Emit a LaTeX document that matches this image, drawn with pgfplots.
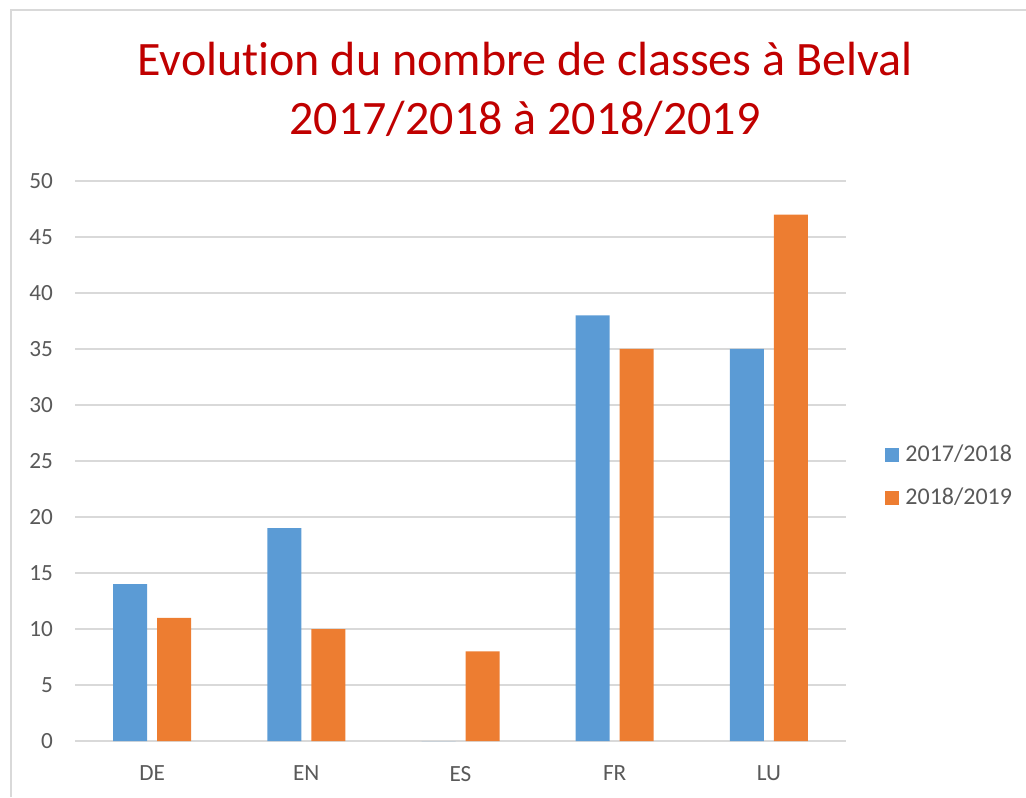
\documentclass[border=0pt]{standalone}
\usepackage{fontspec}
\setmainfont{Carlito}[RawFeature={-liga;-clig;-dlig}]
\usepackage{pgfplots}
\pgfplotsset{compat=1.18}
\definecolor{bl}{HTML}{5B9BD5}
\definecolor{orr}{HTML}{ED7D31}
\definecolor{tit}{HTML}{C00000}
\definecolor{txt}{HTML}{595959}
\definecolor{grd}{HTML}{D9D9D9}
\begin{document}
\begin{tikzpicture}
\begin{axis}[
 scale only axis, width=385.5pt, height=280pt,
 ybar=5pt, bar width=17pt,
 xmin=-0.5, xmax=4.5, ymin=0, ymax=50,
 xtick={0,1,2,3,4}, xticklabels={DE,EN,ES,FR,LU},
 ytick={0,5,...,50},
 ymajorgrids, grid style={grd, line width=0.75pt},
 axis line style={draw=none},
 major tick length=0pt,
 tick style={draw=none},
 /pgf/number format/assume math mode=true,
 ticklabel style={font=\fontsize{11.6}{14}\selectfont, text=txt},
 yticklabel style={xshift=-7.5pt},
 xticklabel style={yshift=-9pt},
 legend style={at={(1.0506,0.4723)}, anchor=west, draw=none, inner sep=0pt,
   font=\fontsize{12}{14}\selectfont, text=txt, row sep=10.5pt,
   nodes={inner sep=0.5pt, text height=8pt, text depth=2pt},
   column sep=2.5pt},
 legend image code/.code={\fill[#1] (0pt,-3.5pt) rectangle (7pt,3.5pt);},
 legend cell align=left,
]
\addplot[fill=bl, draw=none] coordinates {(0,14) (1,19) (2,0) (3,38) (4,35)};
\addplot[fill=orr, draw=none] coordinates {(0,11) (1,10) (2,8) (3,35) (4,47)};
\legend{2017/2018,2018/2019}
\end{axis}
\node[anchor=base, text=tit, font=\fontsize{24}{28}\selectfont] at (225pt,332.5pt) {Evolution du nombre de classes à Belval};
\node[anchor=base, text=tit, font=\fontsize{24}{28}\selectfont] at (225pt,303pt) {2017/2018 à 2018/2019};
\draw[grd, line width=1pt] (-32pt,-28pt) -- (-32pt,365.5pt) -- (475.5pt,365.5pt);
\pgfresetboundingbox
\path[use as bounding box] (-37.5pt,-28pt) rectangle (475.5pt,370.5pt);
\end{tikzpicture}
\end{document}
